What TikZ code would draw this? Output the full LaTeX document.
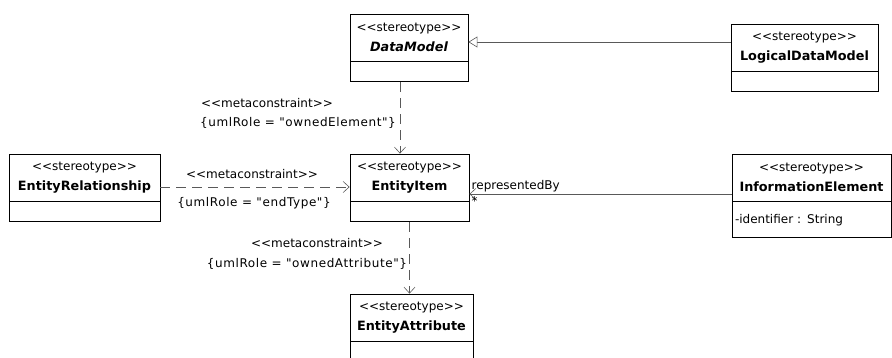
\documentclass[tikz,border=0pt]{standalone}
\usepackage{fontspec}
\setmainfont{DejaVu Sans}[Ligatures=TeXOff]
\usetikzlibrary{arrows.meta,positioning}
\newcommand\umlname[1]{{\fontsize{12.8}{20}\selectfont\bfseries #1}}
\newcommand\umlrole[1]{{\addfontfeature{LetterSpace=5}#1}}

\begin{document}
\begin{tikzpicture}[x=1pt,y=-1pt,font=\fontsize{12}{20}\selectfont,
  cls/.style={draw,line width=.8pt,minimum height=47pt,align=center,inner sep=0pt},
  attr/.style={draw,line width=.8pt,anchor=north west,minimum height=20pt,inner xsep=3pt,inner ysep=0pt,align=left},
  meta/.style={draw=black!65,line width=.6pt,dash pattern=on 10pt off 6pt,-{Straight Barb[length=6pt,width=11pt]}},
  gen/.style={draw=black!65,line width=.6pt,-{Triangle[open,length=9pt,width=11pt,fill=white]}},
  assoc/.style={draw=black!65,line width=.6pt,-{Straight Barb[length=6pt,width=11pt]}},
  lbl/.style={inner sep=0pt}]
\useasboundingbox (0,0) rectangle (892,358);
% classes
\node[cls,minimum width=118pt] (dm) at (409,37.5) {<<stereotype>>\\\umlname{\itshape DataModel}};
\node[attr,text width=112pt] (dmA) at (dm.south west) {};
\node[cls,minimum width=147pt] (ldm) at (804.5,47.5) {<<stereotype>>\\\umlname{LogicalDataModel}};
\node[attr,text width=141pt] (ldmA) at (ldm.south west) {};
\node[cls,minimum width=151pt] (er) at (84.5,177.5) {<<stereotype>>\\\umlname{EntityRelationship}};
\node[attr,text width=145pt] (erA) at (er.south west) {};
\node[cls,minimum width=119pt] (ei) at (409.5,177.5) {<<stereotype>>\\\umlname{EntityItem}};
\node[attr,text width=113pt] (eiA) at (ei.south west) {};
\node[cls,minimum width=159pt] (ie) at (811.5,177.5) {<<stereotype>>\\\umlname{InformationElement}};
\node[attr,text width=153pt,minimum height=36pt] (ieA) at (ie.south west) {-identifier : String};
\node[cls,minimum width=123pt] (ea) at (411.5,317.5) {<<stereotype>>\\\umlname{EntityAttribute}};
\node[attr,text width=117pt] (eaA) at (ea.south west) {};
% connectors
\draw[gen] ([yshift=5.5pt]ldm.west) -- ([yshift=5.5pt]ldm.west -| dm.east);
\draw[meta] ([xshift=-9pt]dmA.south) -- ([xshift=-9pt]dmA.south |- ei.north);
\draw[meta] ([yshift=-9.5pt]er.east) -- ([yshift=-9.5pt]er.east -| ei.west);
\draw[meta] (eiA.south) -- (eiA.south |- ea.north);
\draw[assoc] ([yshift=-16.5pt]ie.west) -- ([yshift=-16.5pt]ie.west -| ei.east)
  node[anchor=south west,inner sep=2pt] (rb) {representedBy}
  node[anchor=north west,inner sep=2pt] (mult) {*};
% constraint labels
\node[lbl] (top1) at (267,103) {<<metaconstraint>>};
\node[lbl] (top2) at (298,123) {\umlrole{\{umlRole = "ownedElement"\}}};
\node[lbl] (mid1) at (252,174) {<<metaconstraint>>};
\node[lbl] (mid2) at (254,203) {\umlrole{\{umlRole = "endType"\}}};
\node[lbl] (bot1) at (317,243) {<<metaconstraint>>};
\node[lbl] (bot2) at (307,264) {\umlrole{\{umlRole = "ownedAttribute"\}}};
\end{tikzpicture}
\end{document}
